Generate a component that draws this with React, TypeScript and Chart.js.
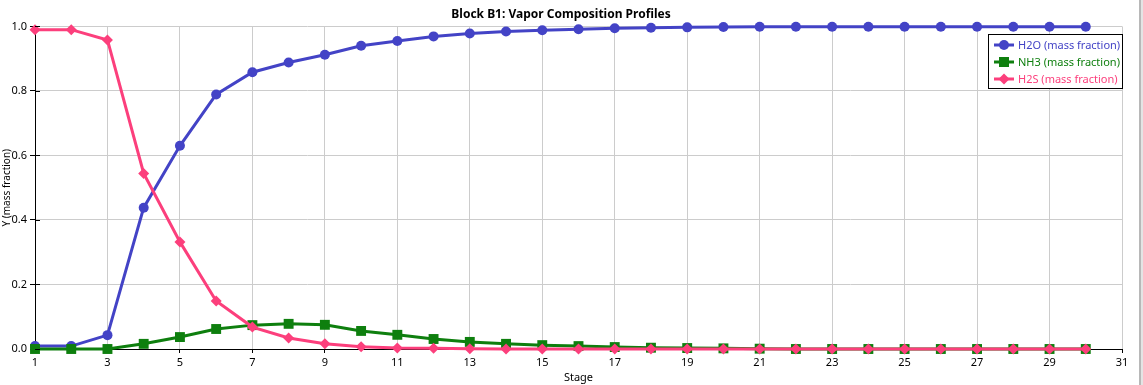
import React, { useEffect, useRef } from "react";
import { Chart, registerables } from "chart.js";

Chart.register(...registerables);

const stages = [1, 2, 3, 4, 5, 6, 7, 8, 9, 10, 11, 12, 13, 14, 15, 16, 17, 18, 19, 20, 21, 22, 23, 24, 25, 26, 27, 28, 29, 30];
const h2o = [0.009, 0.009, 0.043, 0.438, 0.63, 0.789, 0.858, 0.888, 0.912, 0.94, 0.955, 0.969, 0.978, 0.984, 0.988, 0.991, 0.994, 0.996, 0.997, 0.998, 0.999, 0.999, 0.999, 0.999, 0.999, 0.999, 0.999, 0.999, 0.999, 0.999];
const nh3 = [0.0, 0.0, 0.0, 0.016, 0.037, 0.062, 0.074, 0.078, 0.075, 0.056, 0.044, 0.031, 0.022, 0.016, 0.012, 0.009, 0.006, 0.004, 0.003, 0.002, 0.001, 0.0, 0.0, 0.0, 0.0, 0.0, 0.0, 0.0, 0.0, 0.0];
const h2s = [0.99, 0.99, 0.958, 0.544, 0.332, 0.149, 0.068, 0.034, 0.016, 0.007, 0.003, 0.002, 0.001, 0.0, 0.0, 0.0, 0.0, 0.0, 0.0, 0.0, 0.0, 0.0, 0.0, 0.0, 0.0, 0.0, 0.0, 0.0, 0.0, 0.0];
const seriesNames = ["H2O (mass fraction)", "NH3 (mass fraction)", "H2S (mass fraction)"];
const seriesColors = ["#4343C6", "#0E7F0E", "#FC3F7C"];
const seriesShapes = ["circle", "rect", "rectRot"];
const xTickLabels = [1, 3, 5, 7, 9, 11, 13, 15, 17, 19, 21, 23, 25, 27, 29, 31];
const yTickLabels = [0, 0.2, 0.4, 0.6, 0.8, 1.0];

const FONT = "'Noto Sans', 'DejaVu Sans', sans-serif";

const toXY = (vals: number[]) => vals.map((v, i) => ({ x: stages[i], y: v }));

const legendPlugin = {
  id: "customLegend",
  afterDraw(chart: any) {
    const ctx = chart.ctx;
    const area = chart.chartArea;
    const ys = chart.scales.y;
    ctx.save();
    ctx.strokeStyle = "#000";
    ctx.lineWidth = 1;
    yTickLabels.forEach((v) => {
      const py = Math.round(ys.getPixelForValue(v)) + 0.5;
      ctx.beginPath();
      ctx.moveTo(area.left, py);
      ctx.lineTo(area.left + 5, py);
      ctx.stroke();
    });
    const bx = 988.5, by = 34.5, bw = 134, bh = 54;
    ctx.fillStyle = "#fff";
    ctx.fillRect(bx, by, bw, bh);
    ctx.strokeStyle = "#000";
    ctx.strokeRect(bx, by, bw, bh);
    ctx.font = "11px " + FONT;
    ctx.textBaseline = "middle";
    ctx.textAlign = "left";
    for (let i = 0; i < 3; i++) {
      const cy = 45 + i * 17;
      const c = seriesColors[i];
      ctx.strokeStyle = c;
      ctx.lineWidth = 3;
      ctx.beginPath();
      ctx.moveTo(994, cy);
      ctx.lineTo(1014, cy);
      ctx.stroke();
      ctx.fillStyle = c;
      ctx.beginPath();
      if (i === 0) {
        ctx.arc(1004, cy, 5, 0, Math.PI * 2);
      } else if (i === 1) {
        ctx.rect(999, cy - 5, 10, 10);
      } else {
        ctx.moveTo(1004, cy - 5.5);
        ctx.lineTo(1009.5, cy);
        ctx.lineTo(1004, cy + 5.5);
        ctx.lineTo(998.5, cy);
        ctx.closePath();
      }
      ctx.fill();
      ctx.fillText(seriesNames[i], 1018, cy + 0.5);
    }
    ctx.restore();
  },
};

export default function App() {
  const ref = useRef<HTMLCanvasElement | null>(null);
  useEffect(() => {
    if (!ref.current) return;
    const radii = [5, 7, 5.5];
    const datasets = [h2o, nh3, h2s].map((vals, i) => ({
      label: seriesNames[i],
      data: toXY(vals),
      borderColor: seriesColors[i],
      backgroundColor: seriesColors[i],
      borderWidth: 3,
      pointStyle: seriesShapes[i] as any,
      pointRadius: radii[i],
      pointBorderWidth: 0,
      pointBackgroundColor: seriesColors[i],
      pointBorderColor: seriesColors[i],
      tension: 0,
      clip: false as any,
      order: 2 - i,
    }));
    const chart = new Chart(ref.current, {
      type: "line",
      data: { datasets },
      plugins: [legendPlugin],
      options: {
        animation: false,
        responsive: false,
        devicePixelRatio: 1,
        layout: { padding: { left: 0, right: 21, top: 0, bottom: 0 } },
        plugins: {
          legend: { display: false },
          tooltip: { enabled: false },
          title: {
            display: true,
            text: "Block B1: Vapor Composition Profiles",
            color: "#000",
            font: { family: FONT, size: 12, weight: "bold" },
            padding: { top: 7, bottom: 5 },
          },
        },
        scales: {
          x: {
            type: "linear",
            min: 1,
            max: 31,
            afterBuildTicks: (scale: any) => {
              scale.ticks = xTickLabels.map((v) => ({ value: v }));
            },
            afterFit: (scale: any) => {
              scale.height = 36;
            },
            ticks: {
              color: "#000",
              font: { family: FONT, size: 11 },
              padding: 3,
              maxRotation: 0,
              autoSkip: false,
            },
            grid: { color: "#cccccc", tickColor: "#000", tickLength: 4, lineWidth: 1 },
            border: { display: true, color: "#000", width: 1 },
            title: {
              display: true,
              text: "Stage",
              color: "#000",
              font: { family: FONT, size: 11 },
              padding: { top: 0, bottom: 1 },
            },
          },
          y: {
            type: "linear",
            min: 0,
            max: 1,
            afterBuildTicks: (scale: any) => {
              scale.ticks = yTickLabels.map((v) => ({ value: v }));
            },
            afterFit: (scale: any) => {
              scale.width = 35;
            },
            ticks: {
              color: "#000",
              font: { family: FONT, size: 11 },
              padding: 3,
              callback: (v: any) => Number(v).toFixed(1),
            },
            grid: { color: "#cccccc", tickColor: "#000", tickLength: 5, lineWidth: 1 },
            border: { display: true, color: "#000", width: 1 },
            title: {
              display: true,
              text: "Y (mass fraction)",
              color: "#000",
              font: { family: FONT, size: 10 },
              padding: { top: 1, bottom: 0 },
            },
          },
        },
      },
    });
    return () => chart.destroy();
  }, []);
  return (
    <div style={{ position: "absolute", left: 0, top: 0, width: 1143, height: 385, background: "#fff" }}>
      <canvas ref={ref} width={1143} height={385} style={{ display: "block" }} />
      <div style={{ position: "absolute", left: 1139, top: 0, width: 2, height: 385, background: "#b8b8b8" }} />
      <div style={{ position: "absolute", left: 1141, top: 0, width: 2, height: 385, background: "#e4e4e4" }} />
    </div>
  );
}
